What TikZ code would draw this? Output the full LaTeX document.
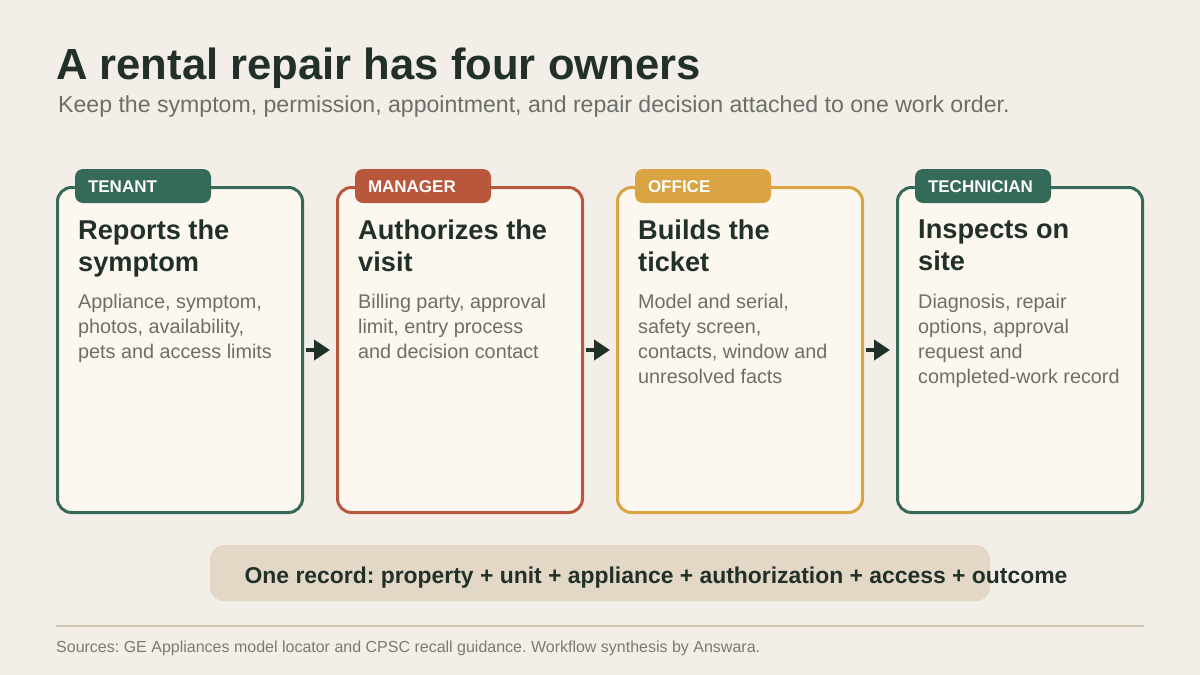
\documentclass[tikz,border=0pt]{standalone}
\usepackage{fontspec}
\setmainfont{Liberation Sans}
\usepackage{xcolor}
\usetikzlibrary{positioning,arrows.meta,calc}
\frenchspacing

\definecolor{pagebg}{HTML}{F3EFE8}
\definecolor{cardbg}{HTML}{FDF8EF}
\definecolor{tgreen}{HTML}{356A59}
\definecolor{mred}{HTML}{B9573C}
\definecolor{ogold}{HTML}{D9A441}
\definecolor{inkdark}{HTML}{22302A}
\definecolor{inkgray}{HTML}{6C6E68}
\definecolor{barfill}{HTML}{E3D8C6}
\definecolor{rulecol}{HTML}{CFC5B0}
\definecolor{notegray}{HTML}{7B7B73}

\begin{document}
\begin{tikzpicture}[
  x=1pt, y=-1pt,
  card/.style={draw, line width=3pt, rounded corners=14pt, fill=cardbg,
               minimum width=245pt, minimum height=325pt, outer sep=0pt},
  tab/.style={rounded corners=8pt, anchor=west, text=white, outer sep=0pt,
              font=\fontsize{17}{20}\selectfont\bfseries,
              text width=110pt, align=left, inner xsep=13pt, inner ysep=0pt,
              minimum height=34pt, text height=12.5pt, text depth=0pt},
  head/.style={anchor=north west, inner sep=0pt, align=left, text=inkdark,
               font=\fontsize{27.2}{32}\selectfont\bfseries},
  body/.style={anchor=north west, inner sep=0pt, align=left, text=inkgray,
               font=\fontsize{19.8}{25}\selectfont},
  flow/.style={-{Triangle[length=16pt, width=20pt]}, line width=4.5pt, draw=inkdark,
               shorten <=3pt, shorten >=7.5pt},
]
\useasboundingbox[fill=pagebg] (0,0) rectangle (1200,675);

% title
\node[anchor=base west, inner sep=0pt, text=inkdark,
      font=\fontsize{43.6}{48}\selectfont\bfseries] (title) at (56,79)
      {A rental repair has four owners};
\node[anchor=base west, inner sep=0pt, text=inkgray,
      font=\fontsize{23.1}{26}\selectfont] (subtitle) at (58,112)
      {Keep the symptom, permission, appointment, and repair decision attached to one work order.};

% four owner cards
\node[card, draw=tgreen] (tenant) at (180,350) {};
\node[card, draw=mred, right=35pt of tenant] (manager) {};
\node[card, draw=ogold, right=35pt of manager] (office) {};
\node[card, draw=tgreen, right=35pt of office] (tech) {};

\node[tab, fill=tgreen] (tenanttab) at ($(tenant.north west)+(17.5,-1.5)$) {TENANT};
\node[tab, fill=mred] (managertab) at ($(manager.north west)+(17.5,-1.5)$) {MANAGER};
\node[tab, fill=ogold] (officetab) at ($(office.north west)+(17.5,-1.5)$) {OFFICE};
\node[tab, fill=tgreen] (techtab) at ($(tech.north west)+(17.5,-1.5)$) {TECHNICIAN};

\node[head] (tenanthead) at ($(tenant.north west)+(20.5,32.5)$) {Reports the\\ symptom};
\node[head] (managerhead) at ($(manager.north west)+(20.5,32.5)$) {Authorizes the\\ visit};
\node[head] (officehead) at ($(office.north west)+(20.5,32.5)$) {Builds the\\ ticket};
\node[head] (techhead) at ($(tech.north west)+(20.5,32.5)$) {Inspects on\\ site};

\node[body] (tenantbody) at ($(tenant.north west)+(20.5,106.5)$)
  {Appliance, symptom,\\ photos, availability,\\ pets and access limits};
\node[body] (managerbody) at ($(manager.north west)+(20.5,106.5)$)
  {Billing party, approval\\ limit, entry process\\ and decision contact};
\node[body] (officebody) at ($(office.north west)+(20.5,106.5)$)
  {Model and serial,\\ safety screen,\\ contacts, window and\\ unresolved facts};
\node[body] (techbody) at ($(tech.north west)+(20.5,106.5)$)
  {Diagnosis, repair\\ options, approval\\ request and\\ completed-work record};

\draw[flow] (tenant.east) -- (manager.west);
\draw[flow] (manager.east) -- (office.west);
\draw[flow] (office.east) -- (tech.west);

% shared record
\node[fill=barfill, rounded corners=14pt, minimum width=780pt, minimum height=56pt,
      inner sep=0pt] (bar) at (600,573) {};
\node[anchor=base, inner sep=0pt, text=inkdark,
      font=\fontsize{22.9}{26}\selectfont\bfseries] (record) at ($(bar.center)+(56,10)$)
      {One record: property + unit + appliance + authorization + access + outcome};

% sources
\draw[rulecol, line width=2pt] (56,626) -- (1144,626);
\node[anchor=base west, inner sep=0pt, text=notegray,
      font=\fontsize{16}{18}\selectfont] (sources) at (56,652)
      {Sources: GE Appliances model locator and CPSC recall guidance. Workflow synthesis by Answara.};
\end{tikzpicture}
\end{document}
